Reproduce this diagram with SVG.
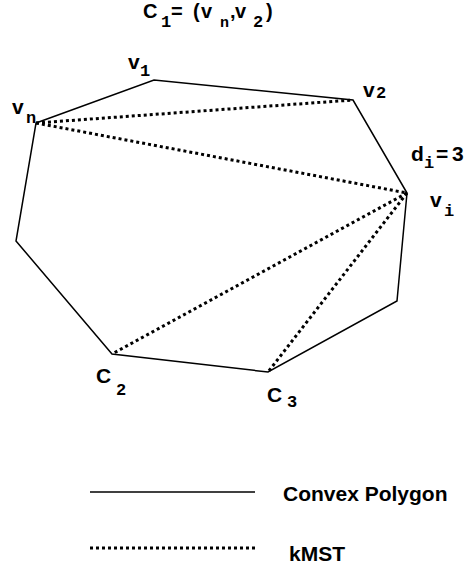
<svg xmlns="http://www.w3.org/2000/svg" width="472" height="571" viewBox="0 0 472 571">
<style>
.solid{fill:none;stroke:#000;stroke-width:1.5;stroke-linejoin:miter}
.dot{fill:none;stroke:#000;stroke-width:3;stroke-dasharray:3 3}
.s{font-family:"Liberation Sans",Arial,sans-serif;font-weight:bold;font-size:21px;fill:#000}
.t{font-family:"Liberation Sans",Arial,sans-serif;font-weight:bold;font-size:20px;fill:#000}
.m{font-family:"Liberation Mono","Courier New",monospace;font-weight:bold;font-size:17px;fill:#000}
</style>
<rect width="472" height="571" fill="#fff"/>
<g id="polygon">
<polygon class="solid" points="36,123 154,80 353,100 407,193 397,301 268,372 112,354 16,241"/>
</g>
<g id="connectors">
<line class="dot" x1="36" y1="123" x2="353" y2="100"/>
<line class="dot" x1="36" y1="123" x2="407" y2="193"/>
<line class="dot" x1="407" y1="193" x2="112" y2="354"/>
<line class="dot" x1="407" y1="193" x2="268" y2="372"/>
</g>
<g id="title">
<text class="t" x="143" y="18">C</text>
<text class="m" x="161" y="27">1</text>
<text class="t" x="171" y="18">=</text>
<text class="t" x="193" y="18">(</text>
<text class="t" x="201" y="18">v</text>
<text class="m" x="220" y="27" style="font-size:15px">n</text>
<text class="t" x="230" y="18">,</text>
<text class="t" x="235" y="18">v</text>
<text class="m" x="253" y="27">2</text>
<text class="t" x="266" y="18">)</text>
</g>
<g id="node-v1">
<text class="s" x="128" y="69">v</text>
<text class="m" x="140" y="76">1</text>
</g>
<g id="node-vn">
<text class="s" x="12" y="114">v</text>
<text class="m" x="26" y="123">n</text>
</g>
<g id="node-v2">
<text class="s" x="363" y="97">v</text>
<text class="m" x="376" y="98">2</text>
</g>
<g id="node-di">
<text class="s" x="411" y="161">d</text>
<text class="m" x="424" y="168">i</text>
<text class="s" x="436" y="161">=</text>
<text class="s" x="452" y="161">3</text>
</g>
<g id="node-vi">
<text class="s" x="430" y="207">v</text>
<text class="m" x="444" y="216">i</text>
</g>
<g id="node-c2">
<text class="s" x="96" y="383">C</text>
<text class="m" x="116" y="395">2</text>
</g>
<g id="node-c3">
<text class="s" x="267" y="402">C</text>
<text class="m" x="287" y="407">3</text>
</g>
<g id="legend">
<line class="solid" x1="90" y1="492" x2="255" y2="492"/>
<text class="s" x="283" y="501">Convex Polygon</text>
<line class="dot" x1="90" y1="548" x2="255" y2="548"/>
<text class="s" x="289" y="561">kMST</text>
</g>
</svg>
